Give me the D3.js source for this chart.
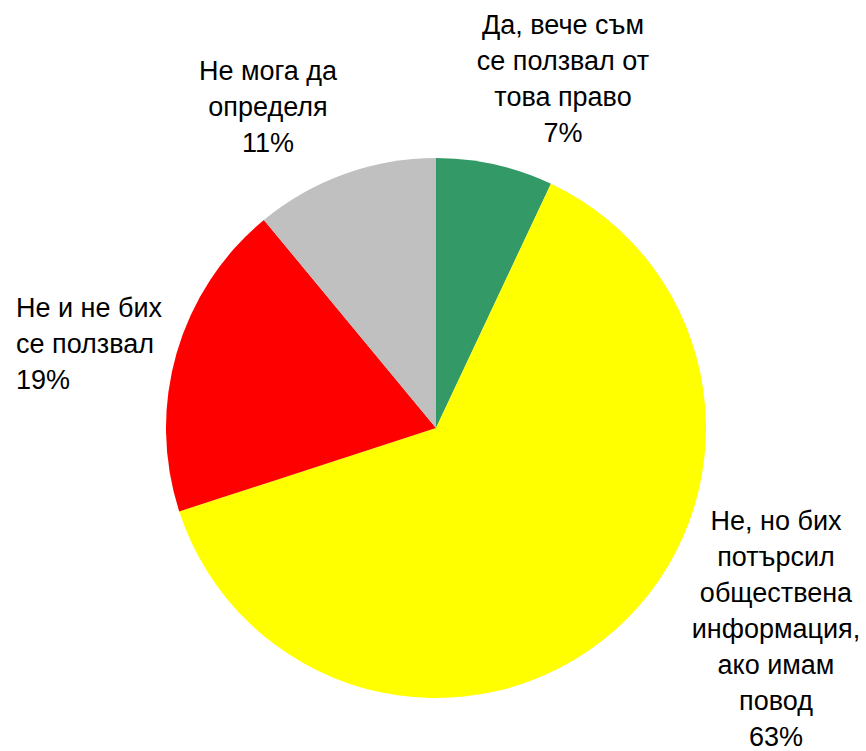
<!DOCTYPE html>
<html>
<head>
<meta charset="utf-8">
<script src="https://cdn.jsdelivr.net/npm/d3@7"></script>
<style>
  html, body { margin: 0; padding: 0; background: #fff; overflow: hidden; }
  svg { display: block; }
  text { font-family: "Liberation Sans", Arial, sans-serif; font-size: 27px; fill: #000; }
</style>
</head>
<body>
<script>
const categories = [
  "Да, вече съм се ползвал от това право",
  "Не, но бих потърсил обществена информация, ако имам повод",
  "Не и не бих се ползвал",
  "Не мога да определя"
];
const values = [7, 63, 19, 11];
const colors = ["#339966", "#ffff00", "#ff0000", "#c0c0c0"];
const labelLines = [
  ["Да, вече съм", "се ползвал от", "това право", "7%"],
  ["Не, но бих", "потърсил", "обществена", "информация,", "ако имам", "повод", "63%"],
  ["Не и не бих", "се ползвал", "19%"],
  ["Не мога да", "определя", "11%"]
];
// label anchor (x, first baseline) and alignment
const labelPos = [
  { x: 563, y: 34, anchor: "middle" },
  { x: 776, y: 530, anchor: "middle" },
  { x: 16, y: 317, anchor: "start" },
  { x: 268, y: 80, anchor: "middle" }
];
const lineHeight = 36;

const width = 866, height = 751;
const cx = 436, cy = 428, r = 270;

const svg = d3.select("body").append("svg")
  .attr("width", width).attr("height", height);

const pie = d3.pie().sort(null).value(d => d);
const arc = d3.arc().innerRadius(0).outerRadius(r);

const g = svg.append("g").attr("transform", `translate(${cx},${cy})`);
g.selectAll("path")
  .data(pie(values))
  .join("path")
  .attr("d", arc)
  .attr("fill", (d, i) => colors[i]);

const labels = svg.append("g");
labelLines.forEach((lines, i) => {
  const p = labelPos[i];
  const t = labels.append("text")
    .attr("text-anchor", p.anchor);
  lines.forEach((s, j) => {
    t.append("tspan").attr("x", p.x).attr("y", p.y + j * lineHeight).text(s);
  });
});
</script>
</body>
</html>
